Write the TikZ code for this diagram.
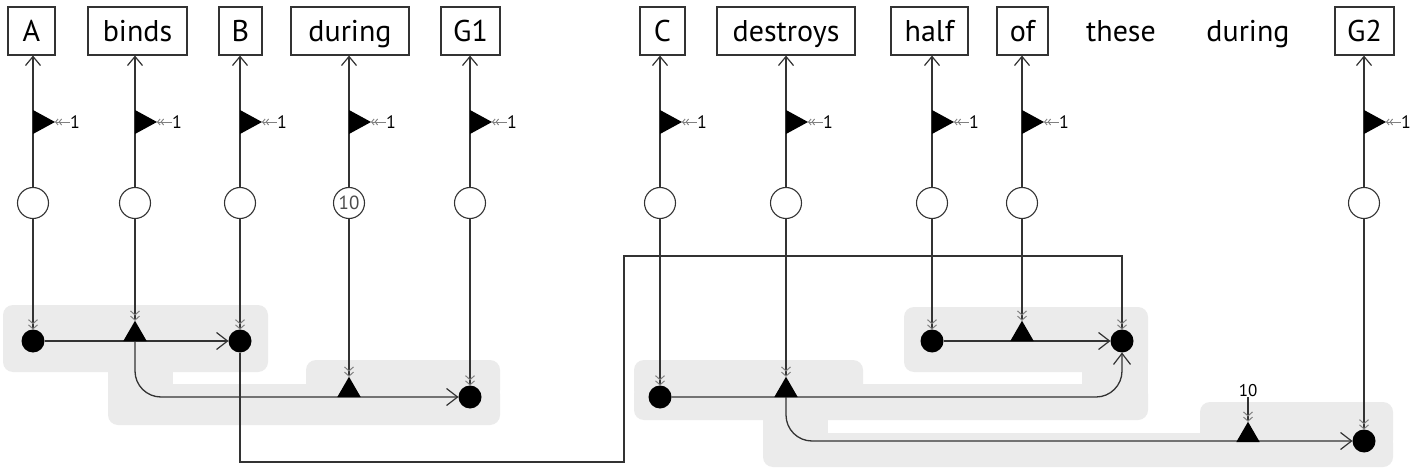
\documentclass[tikz,border=0pt]{standalone}
\usepackage{fontspec}
\setmainfont{PT Sans}
\usetikzlibrary{arrows.meta,shapes.geometric}
\pgfdeclarelayer{grp}
\pgfdeclarelayer{lines}
\pgfsetlayers{grp,lines,main}
\definecolor{grpgray}{HTML}{EBEBEB}
\definecolor{ink}{HTML}{333333}
\tikzset{
 wordbox/.style={draw=ink, line width=1.2pt, fill=white, minimum height=48, inner sep=0, text height=22, text depth=0, font=\fontsize{30}{30}\selectfont},
 plainword/.style={inner sep=0, minimum height=48, text height=22, text depth=0, font=\fontsize{30}{30}\selectfont},
 hollowc/.style={circle, draw=ink, line width=1.1pt, fill=white, minimum size=31, inner sep=0, outer sep=0},
 blackdot/.style={circle, fill=black, minimum size=23, inner sep=0, outer sep=0},
 blacktri/.style={regular polygon, regular polygon sides=3, fill=black, minimum size=27, inner sep=0, outer sep=0},
 lnk/.style={draw=ink, line width=1.3pt},
 toword/.style={lnk, -{Straight Barb[length=9pt,width=15pt,line width=1.2pt]}},
 feedln/.style={lnk, -{Straight Barb[length=4pt,width=9pt,color=gray,line width=1pt] Straight Barb[length=4pt,width=9pt,color=gray,line width=1pt]}},
 harrow/.style={lnk, -{Straight Barb[length=11pt,width=17pt,line width=1.2pt]}},
 grpbox/.style={fill=grpgray, rounded corners=10},
 flagmark/.pic={
  \fill (0,-12) -- (0,12) -- (22,0) -- cycle;
  \node[anchor=west, inner sep=0, font=\fontsize{18}{18}\selectfont] (-one) at (37,0) {1};
  \draw[gray, line width=0.9pt, {Straight Barb[length=2.5pt,width=6pt]Straight Barb[length=2.5pt,width=6pt]}-] (22,0) -- (-one.west);
 },
}
\begin{document}
\begin{tikzpicture}[x=1pt,y=-1pt]
\useasboundingbox (0,0) rectangle (1412,470);
% words
\node[wordbox, minimum width=47] (wA) at (31.5,31) {A};
\node[wordbox, minimum width=99] (wbinds) at (137.5,31) {binds};
\node[wordbox, minimum width=43] (wB) at (240.5,31) {B};
\node[wordbox, minimum width=118] (wduring) at (350,31) {during};
\node[wordbox, minimum width=59] (wG1) at (470.5,31) {G1};
\node[wordbox, minimum width=45] (wC) at (662.5,31) {C};
\node[wordbox, minimum width=138] (wdestroys) at (786,31) {destroys};
\node[wordbox, minimum width=77] (whalf) at (929.5,31) {half};
\node[wordbox, minimum width=51] (wof) at (1022.5,31) {of};
\node[plainword] (wthese) at (1121,31) {these};
\node[plainword] (wduringb) at (1248,31) {during};
\node[wordbox, minimum width=59] (wG2) at (1364.5,31) {G2};
% circles
\node[hollowc] (cA) at (33,203) {};
\node[hollowc] (cbinds) at (135,203) {};
\node[hollowc] (cB) at (240,203) {};
\node[hollowc, font=\fontsize{19}{19}\selectfont, text=black!70] (cduring) at (349,203) {10};
\node[hollowc] (cG1) at (470,203) {};
\node[hollowc] (cC) at (660,203) {};
\node[hollowc] (cdestroys) at (786,203) {};
\node[hollowc] (chalf) at (932,203) {};
\node[hollowc] (cof) at (1022,203) {};
\node[hollowc] (cG2) at (1364,203) {};
% flags
\pic (fA) at (33,122) {flagmark};
\pic (fbinds) at (135,122) {flagmark};
\pic (fB) at (240,122) {flagmark};
\pic (fduring) at (349,122) {flagmark};
\pic (fG1) at (470,122) {flagmark};
\pic (fC) at (660,122) {flagmark};
\pic (fdestroys) at (786,122) {flagmark};
\pic (fhalf) at (932,122) {flagmark};
\pic (fof) at (1022,122) {flagmark};
\pic (fG2) at (1364,122) {flagmark};
% bottom nodes
\node[blackdot] (dA) at (33,341) {};
\node[blacktri] (tbinds) at (135,334.25) {};
\node[blackdot] (dB) at (240,341) {};
\node[blacktri] (tduring) at (349,390.25) {};
\node[blackdot] (dG1) at (470,397) {};
\node[blackdot] (dhalf) at (932,341) {};
\node[blacktri] (tof) at (1022,334.25) {};
\node[blackdot] (dthese) at (1122,341) {};
\node[blackdot] (dC) at (660,397) {};
\node[blacktri] (tdestroys) at (786,390.25) {};
\node[blacktri] (t10) at (1248,435.25) {};
\node[blackdot] (dG2) at (1364,441) {};
\node[inner sep=0, font=\fontsize{17}{17}\selectfont] (l10) at (1248,391) {10};
\coordinate (kB1) at (624,462);
\coordinate (kB2) at (624,256);
% regions
\begin{pgfonlayer}{grp}
\fill[white] (0,0) rectangle (1412,470);
% group around A binds B
\fill[grpbox] (3,305) rectangle (268,372);
% group binds during G1
\fill[grpbox] (108,384) rectangle (500,425);
\fill[grpbox] (306,360) rectangle (500,400);
\fill[grpgray] (108,340) rectangle (173,400);
% group half of these
\fill[grpbox] (904,307) rectangle (1148,372);
% group C destroys these
\fill[grpbox] (634,360) rectangle (863,400);
\fill[grpbox] (634,384) rectangle (1148,420);
\fill[grpgray] (1082,340) rectangle (1148,400);
% group destroys during G2
\fill[grpbox] (763,433) rectangle (1393,467);
\fill[grpbox] (1200,402) rectangle (1393,450);
\fill[grpgray] (763,400) rectangle (828,450);
\end{pgfonlayer}
% connectors
\begin{pgfonlayer}{lines}
\foreach \c/\w in {cA/wA,cbinds/wbinds,cB/wB,cduring/wduring,cG1/wG1,cC/wC,cdestroys/wdestroys,chalf/whalf,cof/wof,cG2/wG2}
  \draw[toword] (\c) -- (\c |- \w.south);
\draw[feedln] (cA) -- (dA);
\draw[feedln] (cbinds) -- (tbinds);
\draw[feedln] (cB) -- (dB);
\draw[feedln] (cduring) -- (tduring);
\draw[feedln] (cG1) -- (dG1);
\draw[feedln] (cC) -- (dC);
\draw[feedln] (cdestroys) -- (tdestroys);
\draw[feedln] (chalf) -- (dhalf);
\draw[feedln] (cof) -- (tof);
\draw[feedln] (cG2) -- (dG2);
\draw[feedln] (l10) -- (t10);
\draw[feedln] (dB) |- (kB1) -- (kB2) -| (dthese);
\draw[harrow] (dA) -- (dB);
\draw[harrow, rounded corners=26] (tbinds) |- (dG1);
\draw[harrow] (dhalf) -- (dthese);
\draw[harrow, rounded corners=26] (dC) -| (dthese);
\draw[harrow, rounded corners=26] (tdestroys) |- (dG2);
\end{pgfonlayer}
\end{tikzpicture}
\end{document}
